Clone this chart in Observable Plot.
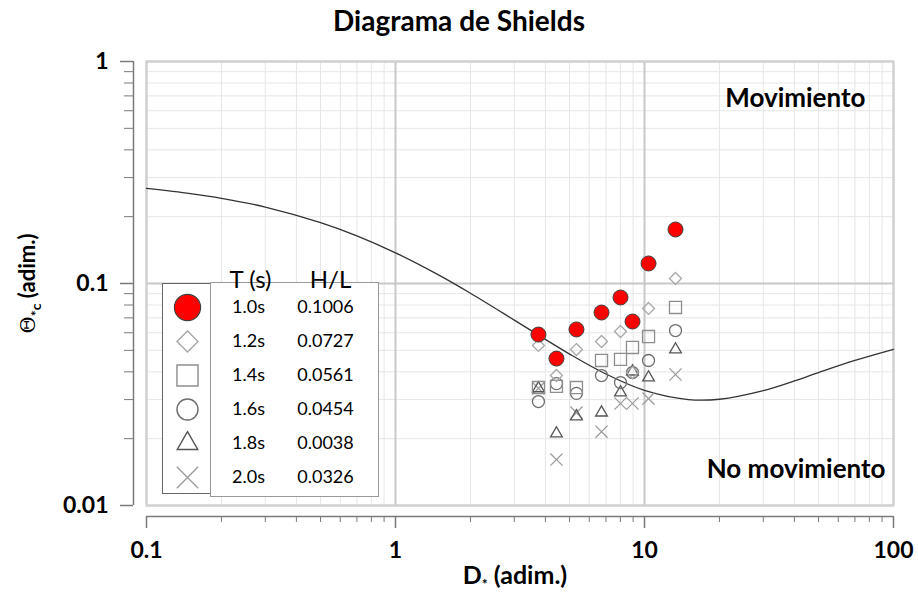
<!DOCTYPE html>
<html>
<head>
<meta charset="utf-8">
<script src="https://cdn.jsdelivr.net/npm/d3@7"></script>
<script src="https://cdn.jsdelivr.net/npm/@observablehq/plot@0.6"></script>
<style>
  body { margin: 0; background: #fff; font-family: Lato, "Open Sans", sans-serif; }
  #wrap { position: relative; width: 918px; height: 604px; overflow: hidden; }
  #title { position: absolute; left: 0; top: 3px; width: 918px; text-align: center; font-weight: bold; font-size: 28px; color: #000; }
  #chart { position: absolute; left: 0; top: 40px; }
  .box { position: absolute; background: #fff; box-sizing: border-box; }
  #symbox { left: 162px; top: 283px; width: 52px; height: 211px; border: 1.5px solid #666; }
  #txtbox { left: 210px; top: 282px; width: 169px; height: 215px; border: 1.5px solid #999; }
  #legend { position: absolute; left: 160px; top: 250px; }
</style>
</head>
<body>
<div id="wrap">
  <div id="title">Diagrama de Shields</div>
  <div id="chart"></div>
  <div class="box" id="symbox"></div>
  <div class="box" id="txtbox"></div>
  <div id="legend"></div>
</div>
<script>
// ---- data ----
const periods = ["1.0s", "1.2s", "1.4s", "1.6s", "1.8s", "2.0s"];
const steepness = ["0.1006", "0.0727", "0.0561", "0.0454", "0.0038", "0.0326"];
const dStar = [3.75, 4.43, 5.33, 6.72, 8.01, 8.95, 10.38, 13.32];
const theta10 = [0.0589, 0.0459, 0.0621, 0.0740, 0.0865, 0.0674, 0.1231, 0.1751];
const theta12 = [0.0526, 0.0385, 0.0504, 0.0548, 0.0608, 0.0397, 0.0772, 0.1053];
const theta14 = [0.0340, 0.0344, 0.0340, 0.0450, 0.0455, 0.0515, 0.0577, 0.0780];
const theta16 = [0.0294, 0.0354, 0.0320, 0.0385, 0.0358, 0.0397, 0.0450, 0.0614];
const theta18 = [0.0337, 0.0211, 0.0252, 0.0262, 0.0323, 0.0401, 0.0377, 0.0504];
const theta20 = [0.0337, 0.0161, 0.0262, 0.0215, 0.0288, 0.0288, 0.0303, 0.0389];
const shieldsD = [0.1, 0.15, 0.2, 0.3, 0.5, 0.7, 1, 1.5, 2, 3, 4, 5, 7, 10, 15, 20, 30, 40, 50, 70, 100];
const shieldsTheta = [0.268, 0.254, 0.242, 0.221, 0.188, 0.164, 0.1375, 0.1088, 0.0904, 0.0684, 0.0560, 0.0481, 0.0391, 0.0330, 0.0300, 0.0301, 0.0329, 0.0364, 0.0397, 0.0450, 0.0505];
const xTicks = [0.1, 1, 10, 100];
const yTicks = [0.01, 0.1, 1];
const xMinor = [0.2,0.3,0.4,0.5,0.6,0.7,0.8,0.9,2,3,4,5,6,7,8,9,20,30,40,50,60,70,80,90];
const yMinor = [0.02,0.03,0.04,0.05,0.06,0.07,0.08,0.09,0.2,0.3,0.4,0.5,0.6,0.7,0.8,0.9];

// ---- styles per series ----
const seriesValues = [theta10, theta12, theta14, theta16, theta18, theta20];
const styles = [
  {symbol: "circle",   r: 7.5, fill: "#ff0000", stroke: "#404040", strokeWidth: 1},
  {symbol: "diamond2", r: 5.4, fill: "none", stroke: "#a8a8a8", strokeWidth: 1.3},
  {symbol: "square",   r: 6.8, fill: "none", stroke: "#8e8e8e", strokeWidth: 1.3},
  {symbol: "circle",   r: 6.0, fill: "none", stroke: "#6e6e6e", strokeWidth: 1.3},
  {symbol: "triangle2",r: 5.6, fill: "none", stroke: "#555555", strokeWidth: 1.3},
  {symbol: "times",    r: 5.6, fill: "none", stroke: "#9a9a9a", strokeWidth: 1.2}
];
const drawOrder = [5, 4, 3, 2, 1, 0];

const shields = shieldsD.map((d, i) => ({x: d, y: shieldsTheta[i]}));
const seriesRows = seriesValues.map(vals => dStar.map((d, j) => ({x: d, y: vals[j]})));

const axisColor = "#7a7a7a";
const font = "Lato, 'Open Sans', sans-serif";

const chart = Plot.plot({
  width: 918,
  height: 564,
  marginTop: 21,
  marginBottom: 99,
  marginLeft: 146,
  marginRight: 25,
  style: {fontFamily: font, color: "#000", background: "transparent", overflow: "visible"},
  x: {type: "log", domain: [0.1, 100]},
  y: {type: "log", domain: [0.01, 1]},
  marks: [
    Plot.gridX(xMinor, {stroke: "#e6e6e6", strokeOpacity: 1, strokeWidth: 1}),
    Plot.gridY(yMinor, {stroke: "#e6e6e6", strokeOpacity: 1, strokeWidth: 1}),
    Plot.gridX(xTicks, {stroke: "#c8c8c8", strokeOpacity: 1, strokeWidth: 2}),
    Plot.gridY(yTicks, {stroke: "#c8c8c8", strokeOpacity: 1, strokeWidth: 2}),
    Plot.frame({stroke: "#d2d2d2", strokeWidth: 2}),
    // offset axis lines
    Plot.ruleX([0.1], {dx: -13, stroke: axisColor, strokeWidth: 1.5}),
    Plot.ruleY([0.01], {dy: 11, stroke: axisColor, strokeWidth: 1.5}),
    Plot.axisY(yTicks, {anchor: "left", dx: -13, tickSize: 13, tickPadding: 12, stroke: axisColor, strokeWidth: 1.5,
      tickFormat: d => String(d), label: null, fontSize: 23, fontWeight: "bold", fill: "#000"}),
    Plot.axisY(yMinor, {anchor: "left", dx: -13, tickSize: 9, stroke: axisColor, fill: "none", label: null}),
    Plot.axisX(xTicks, {anchor: "bottom", dy: 11, tickSize: 12, tickPadding: 13, stroke: axisColor, strokeWidth: 1.5,
      tickFormat: d => String(d), label: null, fontSize: 23, fontWeight: "bold", fill: "#000"}),
    Plot.axisX(xMinor, {anchor: "bottom", dy: 11, tickSize: 6, stroke: axisColor, fill: "none", label: null}),
    // Shields curve
    Plot.line(shields, {x: "x", y: "y", curve: "catmull-rom", stroke: "#333", strokeWidth: 1.3}),
    // series points
    ...drawOrder.map(i => Plot.dot(seriesRows[i], {x: "x", y: "y", ...styles[i]})),
    // region annotations
    Plot.text(["Movimiento"], {frameAnchor: "top-right", textAnchor: "end", dx: -28, dy: 27, fontSize: 26, fontWeight: "bold", fill: "#000"}),
    Plot.text(["No movimiento"], {frameAnchor: "bottom-right", textAnchor: "end", dx: -8, dy: -28, fontSize: 26, fontWeight: "bold", fill: "#000"}),
    // axis labels (subscripts added below)
    Plot.text(["D* (adim.)"], {frameAnchor: "bottom", textAnchor: "middle", dx: -5, dy: 78, fontSize: 25, fontWeight: "bold", fill: "#000", className: "xlab"}),
    Plot.text(["Θ*c (adim.)"], {frameAnchor: "left", textAnchor: "middle", dx: -119, rotate: -90, fontSize: 22, fontWeight: "bold", fill: "#000", className: "ylab"})
  ]
});
document.getElementById("chart").append(chart);

// subscripts in axis labels
{
  const t = d3.select(chart).select("g.xlab text");
  t.text(null);
  t.append("tspan").text("D");
  t.append("tspan").attr("font-size", 14).attr("dy", 5).text("*");
  t.append("tspan").attr("dy", -5).text(" (adim.)");
}
{
  const t = d3.select(chart).select("g.ylab text");
  t.text(null);
  t.append("tspan").attr("font-family", "'DejaVu Serif', serif").attr("font-weight", "normal").attr("font-size", 21).text("Θ");
  t.append("tspan").attr("font-size", 14).attr("dy", 6).text("*c");
  t.append("tspan").attr("dy", -6).text(" (adim.)");
}

// ---- legend ----
const legendStyles = styles.map(s => ({...s, r: s.r * 1.75, strokeWidth: s.strokeWidth * 1.1}));
const legend = Plot.plot({
  width: 222,
  height: 250,
  margin: 0,
  style: {fontFamily: font, color: "#000", background: "transparent", overflow: "visible"},
  y: {type: "point", domain: periods, range: [57, 227], padding: 0, axis: null},
  marks: [
    Plot.text(["T (s)"], {frameAnchor: "top-left", textAnchor: "middle", dx: 90, dy: 20, fontSize: 24, fill: "#000"}),
    Plot.text(["H/L"], {frameAnchor: "top-left", textAnchor: "middle", dx: 170, dy: 20, fontSize: 24, fill: "#000"}),
    ...periods.map((p, i) => Plot.dot([p], {y: d => d, frameAnchor: "left", dx: 27, ...legendStyles[i]})),
    Plot.text(periods, {y: d => d, text: d => d, frameAnchor: "left", textAnchor: "middle", dx: 88, fontSize: 18, fill: "#000"}),
    Plot.text(periods.map((p, i) => ({p, s: steepness[i]})), {y: "p", text: "s", frameAnchor: "left", textAnchor: "middle", dx: 165, fontSize: 18, fill: "#000"})
  ]
});
document.getElementById("legend").append(legend);
</script>
</body>
</html>
